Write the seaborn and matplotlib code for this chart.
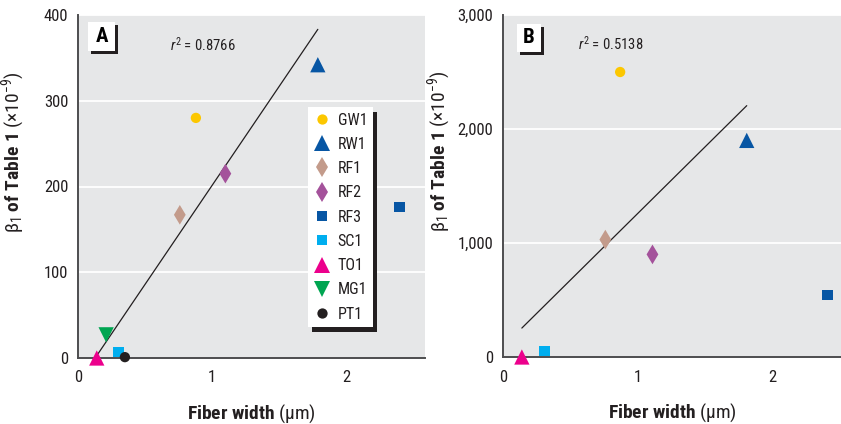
import numpy as np
import pandas as pd
import matplotlib
matplotlib.use("Agg")
import matplotlib.pyplot as plt
from matplotlib import font_manager, transforms
from matplotlib.ft2font import FT2Font
from matplotlib.lines import Line2D
from matplotlib.patches import Rectangle
import seaborn as sns

# ---- data -------------------------------------------------------------
samples_a = ["GW1", "RW1", "RF1", "RF2", "RF3", "SC1", "TO1", "MG1", "PT1"]
width_a = [0.88, 1.79, 0.76, 1.10, 2.40, 0.30, 0.14, 0.21, 0.35]
beta_a = [280, 342, 167, 215, 176, 7, 0, 27, 1]

samples_b = ["GW1", "RW1", "RF1", "RF2", "RF3", "SC1", "TO1"]
width_b = [0.87, 1.81, 0.76, 1.11, 2.41, 0.31, 0.14]
beta_b = [2500, 1900, 1030, 900, 544, 53, 0]

# samples left out of the regression
excluded = ["RF3"]

r2_a = "0.8766"
r2_b = "0.5138"

yticks_a = [0, 100, 200, 300, 400]
yticks_b = [0, 1000, 2000, 3000]
xticks = [0, 1, 2]

# ---- fonts ------------------------------------------------------------
def pick_condensed():
    prefs = ["Roboto Condensed", "Archivo Narrow", "IBM Plex Sans Condensed",
             "Fira Sans Condensed", "PT Sans Narrow", "Liberation Sans Narrow",
             "Open Sans Condensed", "Barlow Condensed"]
    fl = font_manager.fontManager.ttflist
    for name in prefs:
        reg = [f for f in fl if f.name == name and f.style == "normal" and f.weight == 400]
        bold = [f for f in fl if f.name == name and f.style == "normal"
                and isinstance(f.weight, int) and f.weight >= 600]
        if reg and bold:
            return name, reg[0].fname
    return "DejaVu Sans", font_manager.findfont("DejaVu Sans")


narrow, narrow_file = pick_condensed()
try:
    has_greek = all(ord(c) in FT2Font(narrow_file).get_charmap() for c in "βμ×−")
except Exception:
    has_greek = False
greek_family = narrow if has_greek else "DejaVu Sans"

# ---- styling ----------------------------------------------------------
colors = {
    "GW1": "#fcc700", "RW1": "#0756a4", "RF1": "#c39b8b", "RF2": "#a4529b",
    "RF3": "#0756a4", "SC1": "#00aeef", "TO1": "#ec008c", "MG1": "#00a551",
    "PT1": "#231f20",
}
markers = {
    "GW1": "o", "RW1": "^", "RF1": "d", "RF2": "d", "RF3": "s",
    "SC1": "s", "TO1": "^", "MG1": "v", "PT1": "o",
}
msize = {"o": 7.4, "^": 11.0, "v": 11.0, "d": 10.0, "s": 7.8}
sizes = {k: msize[m] ** 2 for k, m in markers.items()}

sns.set_style("white", {"axes.facecolor": "#e6e7e8"})
plt.rcParams["font.family"] = [narrow, "DejaVu Sans"]
plt.rcParams["mathtext.fontset"] = "custom"
plt.rcParams["mathtext.rm"] = narrow
plt.rcParams["mathtext.bf"] = narrow + ":bold"
plt.rcParams["mathtext.it"] = narrow + ":italic"
plt.rcParams["mathtext.sf"] = greek_family

txt = "#231f20"

fig = plt.figure(figsize=(8.41, 4.24), dpi=100)
W, H = 841, 424


def px_axes(left, top, right, bottom):
    return fig.add_axes([left / W, 1 - bottom / H, (right - left) / W, (bottom - top) / H])


ax_a = px_axes(78, 15, 425, 358)
ax_b = px_axes(503, 15, 841, 357)


def shadow_box(ax, x0, y0, x1, y1, dx=3, dy=3):
    """White box in axes fractions with a black shadow offset by (dx, -dy) dots."""
    shifted = transforms.offset_copy(ax.transAxes, fig=fig, x=dx, y=-dy, units="dots")
    ax.add_patch(Rectangle((x0, y0), x1 - x0, y1 - y0, transform=shifted,
                           facecolor="#231f20", edgecolor="none", zorder=6, clip_on=False))
    ax.add_patch(Rectangle((x0, y0), x1 - x0, y1 - y0, transform=ax.transAxes,
                           facecolor="white", edgecolor="none", zorder=7, clip_on=False))


def panel(ax, samples, xs, ys, yticks, ylim, xlim, r2, letter, box, r2pos):
    df = pd.DataFrame({"sample": samples, "width": xs, "beta": ys})
    fit = df[~df["sample"].isin(excluded)]
    sns.regplot(data=fit, x="width", y="beta", ax=ax, scatter=False, ci=None,
                truncate=True, color="#231f20", line_kws={"lw": 0.9, "zorder": 2})
    sns.scatterplot(data=df, x="width", y="beta", hue="sample", style="sample",
                    size="sample", palette=colors, markers=markers, sizes=sizes,
                    linewidth=0, legend=False, ax=ax, clip_on=False, zorder=4)
    ax.set_xlim(*xlim)
    ax.set_ylim(*ylim)
    ax.set_xticks(xticks)
    ax.set_yticks(yticks)
    ax.set_yticklabels([f"{v:,}" for v in yticks])
    ax.tick_params(axis="both", length=0, labelsize=12, colors=txt)
    ax.tick_params(axis="x", pad=9)
    ax.tick_params(axis="y", pad=7)
    ax.grid(axis="y", color="white", lw=1.3)
    ax.set_axisbelow(True)
    for s in ["top", "right"]:
        ax.spines[s].set_visible(False)
    for s in ["left", "bottom"]:
        ax.spines[s].set_color("#4d4d4f")
        ax.spines[s].set_linewidth(1.4)
    ax.set_xlabel(r"$\mathbf{Fiber\ width}$ $\mathrm{(}\mathsf{\mu}\mathrm{m)}$",
                  fontsize=14, color=txt)
    ax.set_ylabel(r"$\mathsf{\beta}_\mathrm{1}$ $\mathbf{of\ Table\ 1}$ "
                  r"$\mathrm{(}\mathsf{\times}\mathrm{10}^{\mathsf{-}\mathrm{9}}\mathrm{)}$",
                  fontsize=14, color=txt)
    ax.xaxis.set_label_coords(0.5, -0.13)
    ax.yaxis.set_label_coords(-0.147, 0.60)
    ax.text(r2pos[0], r2pos[1], f"$r^2$ = {r2}", transform=ax.transAxes,
            fontsize=10.5, color=txt, va="center", ha="left")
    shadow_box(ax, *box)
    ax.text((box[0] + box[2]) / 2, (box[1] + box[3]) / 2, letter, transform=ax.transAxes,
            fontsize=15, fontweight="bold", color="black", ha="center", va="center",
            zorder=8)


panel(ax_a, samples_a, width_a, beta_a, yticks_a, (0, 400), (0, 2.59), r2_a, "A",
      (0.029, 0.895, 0.107, 0.98), (0.265, 0.913))
panel(ax_b, samples_b, width_b, beta_b, yticks_b, (0, 3000), (0, 2.51), r2_b, "B",
      (0.041, 0.892, 0.112, 0.974), (0.222, 0.915))

# legend for panel A
handles = [Line2D([], [], ls="none", marker=markers[s], color=colors[s],
                  markersize=msize[markers[s]], markeredgewidth=0) for s in samples_a]
leg = ax_a.legend(handles, samples_a, loc="upper left",
                  bbox_to_anchor=(0.663, 0.732), frameon=True, fancybox=False,
                  fontsize=11.5, handlelength=1.0, handletextpad=0.5, borderpad=0.35,
                  labelspacing=0.58, borderaxespad=0, labelcolor=txt)
leg.get_frame().set_facecolor("white")
leg.get_frame().set_edgecolor("none")
leg.get_frame().set_alpha(1)
leg.set_zorder(10)
fig.canvas.draw()
bb = leg.get_window_extent()
ax_a.add_artist(Rectangle((bb.x0 + 4, bb.y0 - 5), bb.width, bb.height, transform=None,
                          facecolor="#231f20", edgecolor="none", zorder=9, clip_on=False))

fig.savefig("out.png", dpi=100)
